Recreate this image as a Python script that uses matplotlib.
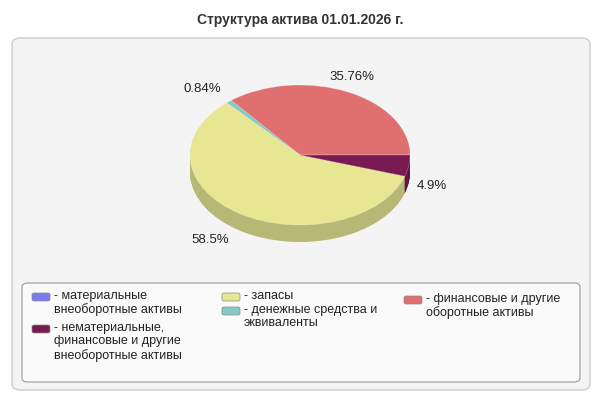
import matplotlib
matplotlib.use("Agg")
import matplotlib.pyplot as plt
from matplotlib.patches import FancyBboxPatch
import matplotlib.colors as mc

plt.rcParams['font.family'] = ['Liberation Sans', 'DejaVu Sans']

title = "Структура актива 01.01.2026 г."
categories = ["материальные\nвнеоборотные активы", "нематериальные,\nфинансовые и другие\nвнеоборотные активы",
              "запасы", "денежные средства и\nэквиваленты", "финансовые и другие\nоборотные активы"]
values = [0.0, 4.9, 58.5, 0.84, 35.76]
colors = ["#7b7bee", "#7a1a52", "#e6e693", "#86c8c8", "#e07070"]
labels = ["", "4.9%", "58.5%", "0.84%", "35.76%"]

fig = plt.figure(figsize=(6, 4), dpi=100)
W, H = 600, 400
def fx(x): return x / W
def fy(y): return 1 - y / H

fig.text(0.5, fy(20), title, ha='center', va='center', fontsize=10, fontweight='bold', color='#333333')
bg = FancyBboxPatch((fx(12), fy(390)), fx(578), (390-38)/H, boxstyle="round,pad=0,rounding_size=0.015",
                    transform=fig.transFigure, fc='#f4f4f4', ec='#cccccc', lw=1, zorder=-2)
fig.patches.append(bg)
lg = FancyBboxPatch((fx(22), fy(382)), fx(558), (382-283)/H, boxstyle="round,pad=0,rounding_size=0.01",
                    transform=fig.transFigure, fc='#fafafa', ec='#999999', lw=0.8, zorder=-1)
fig.patches.append(lg)

# pie order counterclockwise from east
order = [4, 3, 2, 1]
pv = [values[i] for i in order]
pc = [colors[i] for i in order]
def darker(c, f=0.8):
    r, g, b = mc.to_rgb(c)
    return (r*f, g*f, b*f)
depth = 17/70
ax = fig.add_axes([fx(190), fy(242), 220/W, 157/H], zorder=5)
ax.patch.set_visible(False)
n = 25
for k in range(n, 0, -1):
    d = depth * k / n
    ax.pie(pv, colors=[darker(c) for c in pc], startangle=0, counterclock=True,
           center=(0, -d), radius=1, wedgeprops=dict(lw=0))
ax.pie(pv, colors=pc, startangle=0, counterclock=True, center=(0, 0), radius=1,
       wedgeprops=dict(lw=0.4, edgecolor=(1, 1, 1, 0.4)))
ax.set_aspect('auto')
ax.set_xlim(-1, 1); ax.set_ylim(-1 - depth, 1)
ax.axis('off')

lpos = {4: (352, 77), 3: (202, 89), 2: (210, 240), 1: (432, 186)}
for i, (x, y) in lpos.items():
    fig.text(fx(x), fy(y), labels[i], ha='center', va='center', fontsize=9.5, color='#222222')

# legend
leg = [(0, 32, 297), (1, 32, 329), (2, 222, 297), (3, 222, 311), (4, 404, 300)]
for i, x, y in leg:
    r = FancyBboxPatch((fx(x), fy(y + 4)), fx(18), 8/H, boxstyle="round,pad=0,rounding_size=0.004",
                       transform=fig.transFigure, fc=colors[i], ec='#888888', lw=0.5, zorder=1)
    fig.patches.append(r)
    txt = "- " + categories[i]
    fig.text(fx(x + 22), fy(y - 7), txt, ha='left', va='top', fontsize=9, color='#222222',
             linespacing=1.15)

fig.savefig("out.png", dpi=100)
